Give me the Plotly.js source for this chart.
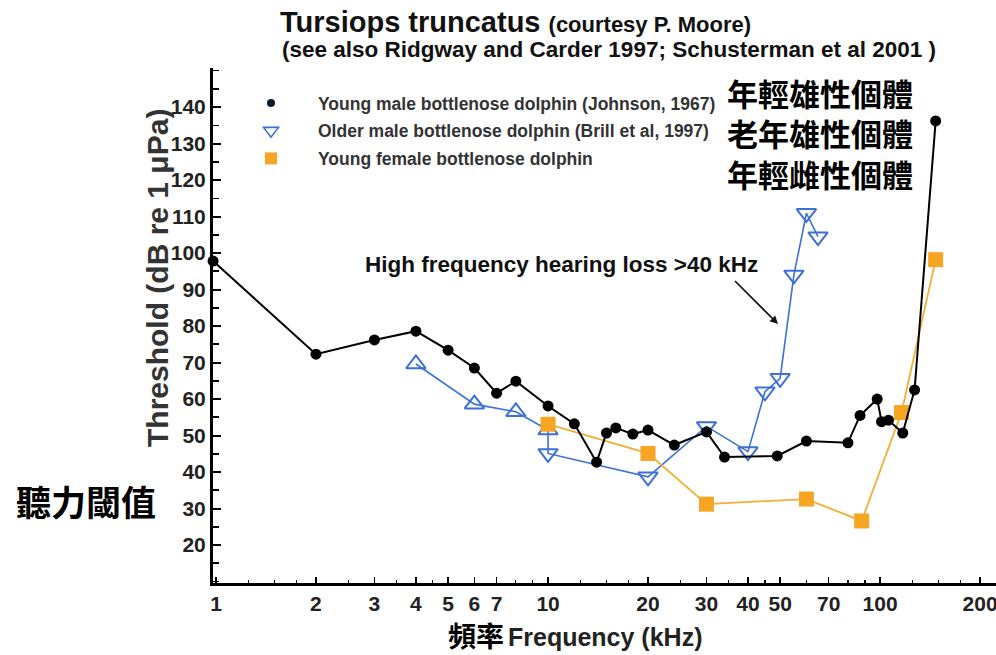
<!DOCTYPE html>
<html>
<head>
<meta charset="utf-8">
<script src="https://cdn.plot.ly/plotly-3.0.1.min.js"></script>
<style>html,body{margin:0;padding:0;background:#fff;}#chart{width:996px;height:655px;}</style>
</head>
<body>
<div id="chart"></div>
<script>
// Young male bottlenose dolphin (Johnson, 1967)
const freqMale = [0.98, 2, 3, 4, 5, 6, 7, 8, 10, 12, 14, 15, 16, 18, 20, 24, 30, 34, 49, 60, 80, 87, 98, 101, 106, 117, 127, 147];
const thrMale  = [97.8, 72.3, 76.2, 78.6, 73.4, 68.5, 61.6, 64.9, 58.1, 53.2, 42.7, 50.7, 52.1, 50.4, 51.5, 47.4, 51.0, 44.1, 44.4, 48.5, 48.0, 55.5, 60.0, 53.8, 54.2, 50.7, 62.5, 136.2];
// Older male bottlenose dolphin (Brill et al, 1997)
const freqOld = [4, 6, 8, 10, 10, 20, 30, 40, 45, 50, 55, 60, 65];
const thrOld  = [69.6, 58.6, 56.5, 51.5, 45.1, 38.7, 52.5, 45.6, 62.0, 65.7, 94.0, 110.9, 104.5];
const symOld  = ['up', 'up', 'up', 'up', 'down', 'down', 'down', 'down', 'down', 'down', 'down', 'down', 'down'];
// Young female bottlenose dolphin
const freqFemale = [10, 20, 30, 60, 88, 116, 147];
const thrFemale  = [53.1, 45.1, 31.2, 32.6, 26.6, 56.3, 98.2];

const seriesNames = ['Young male bottlenose dolphin (Johnson, 1967)', 'Older male bottlenose dolphin (Brill et al, 1997)', 'Young female bottlenose dolphin'];
const chineseNames = ['年輕雄性個體', '老年雄性個體', '年輕雌性個體'];
const xTickVals = [1, 2, 3, 4, 5, 6, 7, 10, 20, 30, 40, 50, 70, 100, 200];
const xMinorVals = [1.25, 1.5, 1.75, 2.5, 3.5, 4.5, 8, 9, 12.5, 15, 17.5, 25, 35, 45, 60, 80, 90, 125, 150, 175];
const yTickVals = [20, 30, 40, 50, 60, 70, 80, 90, 100, 110, 120, 130, 140];

const LAT = 'Liberation Sans, Arial, sans-serif';
const CJK = 'Noto Sans CJK TC, sans-serif';
const BLACK = '#000000', BLUE = '#3c70d8', ORANGE = '#f6a623';

const traces = [
  {x: freqOld, y: thrOld, mode: 'lines+markers', showlegend: false,
   line: {color: BLUE, width: 1.6},
   marker: {symbol: symOld.map(s => s === 'up' ? 'triangle-up-open' : 'triangle-down-open'), size: 17, color: BLUE, line: {width: 2, color: BLUE}}},
  {x: freqFemale, y: thrFemale, mode: 'lines+markers', showlegend: false,
   line: {color: '#f5ad35', width: 1.8},
   marker: {symbol: 'square', size: 15, color: ORANGE}},
  {x: freqMale, y: thrMale, mode: 'lines+markers', showlegend: false, cliponaxis: false,
   line: {color: BLACK, width: 2},
   marker: {symbol: 'circle', size: 11, color: BLACK}},
  // legend-only entries
  {x: [null], y: [null], mode: 'markers', name: seriesNames[0], legendgroup: 'a',
   marker: {symbol: 'circle', size: 8, color: '#0b1a33'}},
  {x: [null], y: [null], mode: 'markers', name: seriesNames[1], legendgroup: 'b',
   marker: {symbol: 'triangle-down-open', size: 13, color: BLUE, line: {width: 1.6, color: BLUE}}},
  {x: [null], y: [null], mode: 'markers', name: seriesNames[2], legendgroup: 'c',
   marker: {symbol: 'square', size: 12, color: ORANGE}}
];

function px(x) { return (x - 213) / 783; }
function py(y) { return (583 - y) / 515; }

const annotations = [
  {text: '(see also Ridgway and Carder 1997; Schusterman et al 2001 )', x: px(280), y: py(50), xref: 'paper', yref: 'paper',
   xanchor: 'left', yanchor: 'middle', showarrow: false, font: {family: LAT, size: 22.5, weight: 'bold', color: '#111'}},
  {text: 'High frequency hearing loss >40 kHz', x: px(363), y: py(264), xref: 'paper', yref: 'paper',
   xanchor: 'left', yanchor: 'middle', showarrow: false, font: {family: LAT, size: 22.5, weight: 'bold', color: '#111'}},
  {text: ' ', x: px(778), y: py(324), xref: 'paper', yref: 'paper', showarrow: true,
   ax: -46, ay: -46, arrowhead: 2, arrowsize: 1, arrowwidth: 1.6, arrowcolor: '#111', standoff: 0, startstandoff: 0},
  {text: 'Threshold (dB re 1 μPa)', textangle: -90, x: px(157), y: py(278), xref: 'paper', yref: 'paper',
   xanchor: 'center', yanchor: 'middle', showarrow: false, font: {family: LAT, size: 30, weight: 'bold', color: '#333'}},
  {text: chineseNames.join('<br>'), x: px(725), y: py(133), xref: 'paper', yref: 'paper', xanchor: 'left', yanchor: 'middle',
   align: 'left', showarrow: false, font: {family: CJK, size: 31, weight: 'bold', color: '#000'}},
  {text: '聽力閾值', x: px(14), y: py(500), xref: 'paper', yref: 'paper', xanchor: 'left', yanchor: 'middle',
   showarrow: false, font: {family: CJK, size: 35, weight: 'bold', color: '#000'}},
  {text: '頻率', x: px(446), y: py(635), xref: 'paper', yref: 'paper', xanchor: 'left', yanchor: 'middle',
   showarrow: false, font: {family: CJK, size: 28, weight: 'bold', color: '#000'}},
  {text: 'Frequency (kHz)', x: px(506), y: py(637), xref: 'paper', yref: 'paper', xanchor: 'left', yanchor: 'middle',
   showarrow: false, font: {family: LAT, size: 25, weight: 'bold', color: '#222'}}
];

const layout = {
  width: 996, height: 655,
  margin: {l: 213, r: 0, t: 68, b: 72, pad: 0},
  paper_bgcolor: '#fff', plot_bgcolor: '#fff',
  showlegend: true,
  title: {text: 'Tursiops truncatus <span style="font-size:22px">(courtesy P. Moore)</span>',
          font: {family: LAT, size: 29, weight: 'bold', color: '#111'},
          x: 280 / 996, xanchor: 'left', xref: 'container', y: 1 - 22 / 655, yanchor: 'middle', yref: 'container'},
  legend: {x: px(224), y: py(85), xanchor: 'left', yanchor: 'top', bgcolor: 'rgba(0,0,0,0)',
           font: {family: LAT, size: 17.5, weight: 'bold', color: '#333'}, itemwidth: 84,
           traceorder: 'grouped', tracegroupgap: 2},
  xaxis: {type: 'log', range: [-0.009, 2.349], showgrid: false, zeroline: false,
          showline: true, linecolor: '#000', linewidth: 3,
          tickvals: xTickVals, ticktext: xTickVals.map(String), ticklabeloverflow: 'allow',
          ticks: 'inside', ticklen: 6, tickwidth: 1.5, tickcolor: '#000',
          minor: {tickvals: xMinorVals, ticks: 'inside', ticklen: 3, tickwidth: 1.2, tickcolor: '#000'},
          tickfont: {family: LAT, size: 21, weight: 'bold', color: '#222'}},
  yaxis: {range: [9.6, 150.7], showgrid: false, zeroline: false,
          showline: true, linecolor: '#000', linewidth: 3,
          tickvals: yTickVals, ticktext: yTickVals.map(String),
          ticks: 'inside', ticklen: 8, tickwidth: 2, tickcolor: '#000',
          minor: {dtick: 5, tick0: 0, ticks: 'inside', ticklen: 6, tickwidth: 1.6, tickcolor: '#000'},
          tickfont: {family: LAT, size: 21, weight: 'bold', color: '#222'}},
  annotations: annotations
};

Plotly.newPlot('chart', traces, layout, {displayModeBar: false, staticPlot: true});
</script>
</body>
</html>
